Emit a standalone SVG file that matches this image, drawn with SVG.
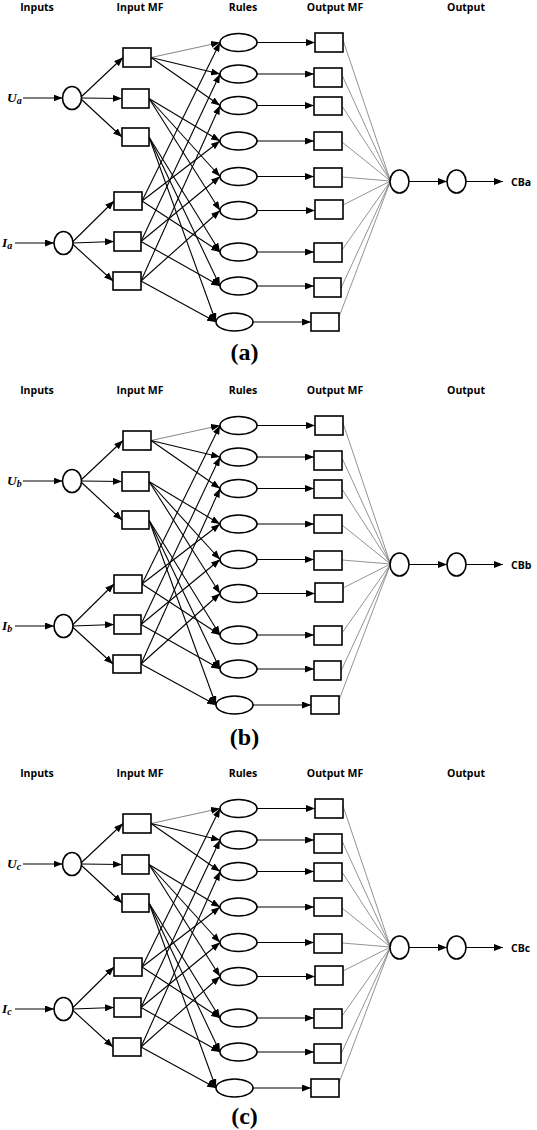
<svg xmlns="http://www.w3.org/2000/svg" width="537" height="1130" viewBox="0 0 537 1130">
<defs>
<marker id="ah" markerUnits="userSpaceOnUse" markerWidth="9" markerHeight="7" refX="9" refY="3.5" orient="auto"><path d="M0,0 L9,3.5 L0,7 z" fill="#000"/></marker>
</defs>
<style>
.nd{fill:#fff;stroke:#000;stroke-width:1.6}
.ar{stroke:#000;stroke-width:1.1;fill:none;marker-end:url(#ah)}
.lg{stroke:#777;stroke-width:0.9;fill:none;marker-end:url(#ah)}
.gr{stroke:#777;stroke-width:0.8;fill:none}
.ti{font-family:"Open Sans","Liberation Sans",sans-serif;font-weight:bold;font-size:10.5px;text-anchor:middle;fill:#000}
.cb{font-family:"Open Sans","Liberation Sans",sans-serif;font-weight:bold;font-size:10.5px;fill:#000}
.iv{font-family:"Liberation Serif",serif;font-weight:bold;font-style:italic;font-size:13.5px;fill:#000}
.sb{font-size:10px}
.pl{font-family:"Liberation Serif",serif;font-weight:bold;font-size:24px;text-anchor:middle;fill:#000}
</style>

<g id="panel-a">
<g id="a-titles"><text class="ti" x="37" y="10.5">Inputs</text><text class="ti" x="140" y="10.5">Input MF</text><text class="ti" x="243" y="10.5">Rules</text><text class="ti" x="335" y="10.5">Output MF</text><text class="ti" x="466" y="10.5">Output</text></g>
<g id="a-connectors">
<line class="ar" x1="23" y1="98" x2="62.5" y2="98"/>
<line class="ar" x1="15" y1="243" x2="54" y2="243"/>
<line class="ar" x1="81" y1="97" x2="123" y2="57.5"/>
<line class="ar" x1="81.5" y1="98" x2="122" y2="98.5"/>
<line class="ar" x1="81" y1="99" x2="122" y2="137"/>
<line class="ar" x1="72.5" y1="242" x2="114" y2="201"/>
<line class="ar" x1="73" y1="243" x2="114" y2="241.5"/>
<line class="ar" x1="72.5" y1="244" x2="113" y2="281"/>
<line class="lg" x1="151" y1="57.5" x2="220" y2="42.5"/>
<line class="ar" x1="151" y1="57.5" x2="220" y2="74"/>
<line class="ar" x1="151" y1="57.5" x2="220" y2="105.5"/>
<line class="ar" x1="149" y1="98.5" x2="220" y2="141"/>
<line class="ar" x1="149" y1="98.5" x2="220" y2="176.5"/>
<line class="ar" x1="149" y1="98.5" x2="220" y2="210.5"/>
<line class="ar" x1="149" y1="137" x2="220" y2="252"/>
<line class="ar" x1="149" y1="137" x2="220" y2="286"/>
<line class="ar" x1="149" y1="137" x2="216" y2="322"/>
<line class="ar" x1="142" y1="201" x2="220" y2="42.5"/>
<line class="ar" x1="142" y1="201" x2="220" y2="141"/>
<line class="ar" x1="142" y1="201" x2="220" y2="252"/>
<line class="ar" x1="141" y1="241.5" x2="220" y2="74"/>
<line class="ar" x1="141" y1="241.5" x2="220" y2="176.5"/>
<line class="ar" x1="141" y1="241.5" x2="220" y2="286"/>
<line class="ar" x1="141" y1="281" x2="220" y2="105.5"/>
<line class="ar" x1="141" y1="281" x2="220" y2="210.5"/>
<line class="ar" x1="141" y1="281" x2="216" y2="322"/>
<line class="ar" x1="257" y1="42.5" x2="315" y2="42.5"/>
<line class="ar" x1="257" y1="74" x2="314" y2="74"/>
<line class="ar" x1="257" y1="105.5" x2="314" y2="105.5"/>
<line class="ar" x1="257" y1="141" x2="314" y2="141"/>
<line class="ar" x1="257" y1="176.5" x2="314" y2="176.5"/>
<line class="ar" x1="257" y1="210.5" x2="315" y2="210.5"/>
<line class="ar" x1="257" y1="252" x2="314" y2="252"/>
<line class="ar" x1="257" y1="286" x2="314" y2="286"/>
<line class="ar" x1="253" y1="322" x2="311" y2="322"/>
<line class="gr" x1="343" y1="40" x2="390.5" y2="181"/>
<line class="gr" x1="342" y1="75" x2="390.5" y2="181"/>
<line class="gr" x1="342" y1="106" x2="390.5" y2="181"/>
<line class="gr" x1="342" y1="142" x2="390.5" y2="181"/>
<line class="gr" x1="342" y1="177" x2="390.5" y2="181"/>
<line class="gr" x1="343" y1="205" x2="390.5" y2="181"/>
<line class="gr" x1="342" y1="250" x2="390.5" y2="181"/>
<line class="gr" x1="341" y1="288" x2="390.5" y2="181"/>
<line class="gr" x1="339" y1="317" x2="390.5" y2="181"/>
<line class="ar" x1="409" y1="181.5" x2="447" y2="181.5"/>
<line class="ar" x1="466" y1="181.5" x2="503" y2="181.5"/>
</g>
<g id="a-in-u"><ellipse class="nd" cx="72" cy="98" rx="9.5" ry="11.5"/><text class="iv" x="7" y="102">U<tspan class="sb" dy="2">a</tspan></text></g>
<g id="a-in-i"><ellipse class="nd" cx="63.5" cy="243" rx="9.5" ry="11.5"/><text class="iv" x="2" y="247">I<tspan class="sb" dy="2">a</tspan></text></g>
<g id="a-mf1"><rect class="nd" x="123" y="48" width="28" height="19"/></g>
<g id="a-mf2"><rect class="nd" x="122" y="89" width="27" height="19"/></g>
<g id="a-mf3"><rect class="nd" x="122" y="128" width="27" height="18"/></g>
<g id="a-mf4"><rect class="nd" x="114" y="192" width="28" height="18"/></g>
<g id="a-mf5"><rect class="nd" x="114" y="232" width="27" height="19"/></g>
<g id="a-mf6"><rect class="nd" x="113" y="272" width="28" height="18"/></g>
<g id="a-r1"><ellipse class="nd" cx="238.5" cy="42.5" rx="18.5" ry="9"/></g>
<g id="a-r2"><ellipse class="nd" cx="238.5" cy="74" rx="18.5" ry="9"/></g>
<g id="a-r3"><ellipse class="nd" cx="238.5" cy="105.5" rx="18.5" ry="9"/></g>
<g id="a-r4"><ellipse class="nd" cx="238.5" cy="141" rx="18.5" ry="9"/></g>
<g id="a-r5"><ellipse class="nd" cx="238.5" cy="176.5" rx="18.5" ry="9"/></g>
<g id="a-r6"><ellipse class="nd" cx="238.5" cy="210.5" rx="18.5" ry="9"/></g>
<g id="a-r7"><ellipse class="nd" cx="238.5" cy="252" rx="18.5" ry="9"/></g>
<g id="a-r8"><ellipse class="nd" cx="238.5" cy="286" rx="18.5" ry="9"/></g>
<g id="a-r9"><ellipse class="nd" cx="234.5" cy="322" rx="18.5" ry="9"/></g>
<g id="a-om1"><rect class="nd" x="315" y="33" width="28" height="19"/></g>
<g id="a-om2"><rect class="nd" x="314" y="68" width="28" height="19"/></g>
<g id="a-om3"><rect class="nd" x="314" y="97" width="28" height="18"/></g>
<g id="a-om4"><rect class="nd" x="314" y="132" width="28" height="18"/></g>
<g id="a-om5"><rect class="nd" x="314" y="168" width="28" height="19"/></g>
<g id="a-om6"><rect class="nd" x="315" y="200" width="28" height="19"/></g>
<g id="a-om7"><rect class="nd" x="314" y="243" width="28" height="19"/></g>
<g id="a-om8"><rect class="nd" x="314" y="278" width="27" height="19"/></g>
<g id="a-om9"><rect class="nd" x="311" y="313" width="28" height="18"/></g>
<g id="a-sum"><ellipse class="nd" cx="399.5" cy="181.5" rx="9.5" ry="11.5"/></g>
<g id="a-out"><ellipse class="nd" cx="456.5" cy="181.5" rx="9.5" ry="11.5"/><text class="cb" x="511" y="185.5">CBa</text></g>
</g>

<g id="panel-b" transform="translate(0,383)">
<g id="b-titles"><text class="ti" x="37" y="10.5">Inputs</text><text class="ti" x="140" y="10.5">Input MF</text><text class="ti" x="243" y="10.5">Rules</text><text class="ti" x="335" y="10.5">Output MF</text><text class="ti" x="466" y="10.5">Output</text></g>
<g id="b-connectors">
<line class="ar" x1="23" y1="98" x2="62.5" y2="98"/>
<line class="ar" x1="15" y1="243" x2="54" y2="243"/>
<line class="ar" x1="81" y1="97" x2="123" y2="57.5"/>
<line class="ar" x1="81.5" y1="98" x2="122" y2="98.5"/>
<line class="ar" x1="81" y1="99" x2="122" y2="137"/>
<line class="ar" x1="72.5" y1="242" x2="114" y2="201"/>
<line class="ar" x1="73" y1="243" x2="114" y2="241.5"/>
<line class="ar" x1="72.5" y1="244" x2="113" y2="281"/>
<line class="lg" x1="151" y1="57.5" x2="220" y2="42.5"/>
<line class="ar" x1="151" y1="57.5" x2="220" y2="74"/>
<line class="ar" x1="151" y1="57.5" x2="220" y2="105.5"/>
<line class="ar" x1="149" y1="98.5" x2="220" y2="141"/>
<line class="ar" x1="149" y1="98.5" x2="220" y2="176.5"/>
<line class="ar" x1="149" y1="98.5" x2="220" y2="210.5"/>
<line class="ar" x1="149" y1="137" x2="220" y2="252"/>
<line class="ar" x1="149" y1="137" x2="220" y2="286"/>
<line class="ar" x1="149" y1="137" x2="216" y2="322"/>
<line class="ar" x1="142" y1="201" x2="220" y2="42.5"/>
<line class="ar" x1="142" y1="201" x2="220" y2="141"/>
<line class="ar" x1="142" y1="201" x2="220" y2="252"/>
<line class="ar" x1="141" y1="241.5" x2="220" y2="74"/>
<line class="ar" x1="141" y1="241.5" x2="220" y2="176.5"/>
<line class="ar" x1="141" y1="241.5" x2="220" y2="286"/>
<line class="ar" x1="141" y1="281" x2="220" y2="105.5"/>
<line class="ar" x1="141" y1="281" x2="220" y2="210.5"/>
<line class="ar" x1="141" y1="281" x2="216" y2="322"/>
<line class="ar" x1="257" y1="42.5" x2="315" y2="42.5"/>
<line class="ar" x1="257" y1="74" x2="314" y2="74"/>
<line class="ar" x1="257" y1="105.5" x2="314" y2="105.5"/>
<line class="ar" x1="257" y1="141" x2="314" y2="141"/>
<line class="ar" x1="257" y1="176.5" x2="314" y2="176.5"/>
<line class="ar" x1="257" y1="210.5" x2="315" y2="210.5"/>
<line class="ar" x1="257" y1="252" x2="314" y2="252"/>
<line class="ar" x1="257" y1="286" x2="314" y2="286"/>
<line class="ar" x1="253" y1="322" x2="311" y2="322"/>
<line class="gr" x1="343" y1="40" x2="390.5" y2="181"/>
<line class="gr" x1="342" y1="75" x2="390.5" y2="181"/>
<line class="gr" x1="342" y1="106" x2="390.5" y2="181"/>
<line class="gr" x1="342" y1="142" x2="390.5" y2="181"/>
<line class="gr" x1="342" y1="177" x2="390.5" y2="181"/>
<line class="gr" x1="343" y1="205" x2="390.5" y2="181"/>
<line class="gr" x1="342" y1="250" x2="390.5" y2="181"/>
<line class="gr" x1="341" y1="288" x2="390.5" y2="181"/>
<line class="gr" x1="339" y1="317" x2="390.5" y2="181"/>
<line class="ar" x1="409" y1="181.5" x2="447" y2="181.5"/>
<line class="ar" x1="466" y1="181.5" x2="503" y2="181.5"/>
</g>
<g id="b-in-u"><ellipse class="nd" cx="72" cy="98" rx="9.5" ry="11.5"/><text class="iv" x="7" y="102">U<tspan class="sb" dy="2">b</tspan></text></g>
<g id="b-in-i"><ellipse class="nd" cx="63.5" cy="243" rx="9.5" ry="11.5"/><text class="iv" x="2" y="247">I<tspan class="sb" dy="2">b</tspan></text></g>
<g id="b-mf1"><rect class="nd" x="123" y="48" width="28" height="19"/></g>
<g id="b-mf2"><rect class="nd" x="122" y="89" width="27" height="19"/></g>
<g id="b-mf3"><rect class="nd" x="122" y="128" width="27" height="18"/></g>
<g id="b-mf4"><rect class="nd" x="114" y="192" width="28" height="18"/></g>
<g id="b-mf5"><rect class="nd" x="114" y="232" width="27" height="19"/></g>
<g id="b-mf6"><rect class="nd" x="113" y="272" width="28" height="18"/></g>
<g id="b-r1"><ellipse class="nd" cx="238.5" cy="42.5" rx="18.5" ry="9"/></g>
<g id="b-r2"><ellipse class="nd" cx="238.5" cy="74" rx="18.5" ry="9"/></g>
<g id="b-r3"><ellipse class="nd" cx="238.5" cy="105.5" rx="18.5" ry="9"/></g>
<g id="b-r4"><ellipse class="nd" cx="238.5" cy="141" rx="18.5" ry="9"/></g>
<g id="b-r5"><ellipse class="nd" cx="238.5" cy="176.5" rx="18.5" ry="9"/></g>
<g id="b-r6"><ellipse class="nd" cx="238.5" cy="210.5" rx="18.5" ry="9"/></g>
<g id="b-r7"><ellipse class="nd" cx="238.5" cy="252" rx="18.5" ry="9"/></g>
<g id="b-r8"><ellipse class="nd" cx="238.5" cy="286" rx="18.5" ry="9"/></g>
<g id="b-r9"><ellipse class="nd" cx="234.5" cy="322" rx="18.5" ry="9"/></g>
<g id="b-om1"><rect class="nd" x="315" y="33" width="28" height="19"/></g>
<g id="b-om2"><rect class="nd" x="314" y="68" width="28" height="19"/></g>
<g id="b-om3"><rect class="nd" x="314" y="97" width="28" height="18"/></g>
<g id="b-om4"><rect class="nd" x="314" y="132" width="28" height="18"/></g>
<g id="b-om5"><rect class="nd" x="314" y="168" width="28" height="19"/></g>
<g id="b-om6"><rect class="nd" x="315" y="200" width="28" height="19"/></g>
<g id="b-om7"><rect class="nd" x="314" y="243" width="28" height="19"/></g>
<g id="b-om8"><rect class="nd" x="314" y="278" width="27" height="19"/></g>
<g id="b-om9"><rect class="nd" x="311" y="313" width="28" height="18"/></g>
<g id="b-sum"><ellipse class="nd" cx="399.5" cy="181.5" rx="9.5" ry="11.5"/></g>
<g id="b-out"><ellipse class="nd" cx="456.5" cy="181.5" rx="9.5" ry="11.5"/><text class="cb" x="511" y="185.5">CBb</text></g>
</g>

<g id="panel-c" transform="translate(0,766)">
<g id="c-titles"><text class="ti" x="37" y="10.5">Inputs</text><text class="ti" x="140" y="10.5">Input MF</text><text class="ti" x="243" y="10.5">Rules</text><text class="ti" x="335" y="10.5">Output MF</text><text class="ti" x="466" y="10.5">Output</text></g>
<g id="c-connectors">
<line class="ar" x1="23" y1="98" x2="62.5" y2="98"/>
<line class="ar" x1="15" y1="243" x2="54" y2="243"/>
<line class="ar" x1="81" y1="97" x2="123" y2="57.5"/>
<line class="ar" x1="81.5" y1="98" x2="122" y2="98.5"/>
<line class="ar" x1="81" y1="99" x2="122" y2="137"/>
<line class="ar" x1="72.5" y1="242" x2="114" y2="201"/>
<line class="ar" x1="73" y1="243" x2="114" y2="241.5"/>
<line class="ar" x1="72.5" y1="244" x2="113" y2="281"/>
<line class="lg" x1="151" y1="57.5" x2="220" y2="42.5"/>
<line class="ar" x1="151" y1="57.5" x2="220" y2="74"/>
<line class="ar" x1="151" y1="57.5" x2="220" y2="105.5"/>
<line class="ar" x1="149" y1="98.5" x2="220" y2="141"/>
<line class="ar" x1="149" y1="98.5" x2="220" y2="176.5"/>
<line class="ar" x1="149" y1="98.5" x2="220" y2="210.5"/>
<line class="ar" x1="149" y1="137" x2="220" y2="252"/>
<line class="ar" x1="149" y1="137" x2="220" y2="286"/>
<line class="ar" x1="149" y1="137" x2="216" y2="322"/>
<line class="ar" x1="142" y1="201" x2="220" y2="42.5"/>
<line class="ar" x1="142" y1="201" x2="220" y2="141"/>
<line class="ar" x1="142" y1="201" x2="220" y2="252"/>
<line class="ar" x1="141" y1="241.5" x2="220" y2="74"/>
<line class="ar" x1="141" y1="241.5" x2="220" y2="176.5"/>
<line class="ar" x1="141" y1="241.5" x2="220" y2="286"/>
<line class="ar" x1="141" y1="281" x2="220" y2="105.5"/>
<line class="ar" x1="141" y1="281" x2="220" y2="210.5"/>
<line class="ar" x1="141" y1="281" x2="216" y2="322"/>
<line class="ar" x1="257" y1="42.5" x2="315" y2="42.5"/>
<line class="ar" x1="257" y1="74" x2="314" y2="74"/>
<line class="ar" x1="257" y1="105.5" x2="314" y2="105.5"/>
<line class="ar" x1="257" y1="141" x2="314" y2="141"/>
<line class="ar" x1="257" y1="176.5" x2="314" y2="176.5"/>
<line class="ar" x1="257" y1="210.5" x2="315" y2="210.5"/>
<line class="ar" x1="257" y1="252" x2="314" y2="252"/>
<line class="ar" x1="257" y1="286" x2="314" y2="286"/>
<line class="ar" x1="253" y1="322" x2="311" y2="322"/>
<line class="gr" x1="343" y1="40" x2="390.5" y2="181"/>
<line class="gr" x1="342" y1="75" x2="390.5" y2="181"/>
<line class="gr" x1="342" y1="106" x2="390.5" y2="181"/>
<line class="gr" x1="342" y1="142" x2="390.5" y2="181"/>
<line class="gr" x1="342" y1="177" x2="390.5" y2="181"/>
<line class="gr" x1="343" y1="205" x2="390.5" y2="181"/>
<line class="gr" x1="342" y1="250" x2="390.5" y2="181"/>
<line class="gr" x1="341" y1="288" x2="390.5" y2="181"/>
<line class="gr" x1="339" y1="317" x2="390.5" y2="181"/>
<line class="ar" x1="409" y1="181.5" x2="447" y2="181.5"/>
<line class="ar" x1="466" y1="181.5" x2="503" y2="181.5"/>
</g>
<g id="c-in-u"><ellipse class="nd" cx="72" cy="98" rx="9.5" ry="11.5"/><text class="iv" x="7" y="102">U<tspan class="sb" dy="2">c</tspan></text></g>
<g id="c-in-i"><ellipse class="nd" cx="63.5" cy="243" rx="9.5" ry="11.5"/><text class="iv" x="2" y="247">I<tspan class="sb" dy="2">c</tspan></text></g>
<g id="c-mf1"><rect class="nd" x="123" y="48" width="28" height="19"/></g>
<g id="c-mf2"><rect class="nd" x="122" y="89" width="27" height="19"/></g>
<g id="c-mf3"><rect class="nd" x="122" y="128" width="27" height="18"/></g>
<g id="c-mf4"><rect class="nd" x="114" y="192" width="28" height="18"/></g>
<g id="c-mf5"><rect class="nd" x="114" y="232" width="27" height="19"/></g>
<g id="c-mf6"><rect class="nd" x="113" y="272" width="28" height="18"/></g>
<g id="c-r1"><ellipse class="nd" cx="238.5" cy="42.5" rx="18.5" ry="9"/></g>
<g id="c-r2"><ellipse class="nd" cx="238.5" cy="74" rx="18.5" ry="9"/></g>
<g id="c-r3"><ellipse class="nd" cx="238.5" cy="105.5" rx="18.5" ry="9"/></g>
<g id="c-r4"><ellipse class="nd" cx="238.5" cy="141" rx="18.5" ry="9"/></g>
<g id="c-r5"><ellipse class="nd" cx="238.5" cy="176.5" rx="18.5" ry="9"/></g>
<g id="c-r6"><ellipse class="nd" cx="238.5" cy="210.5" rx="18.5" ry="9"/></g>
<g id="c-r7"><ellipse class="nd" cx="238.5" cy="252" rx="18.5" ry="9"/></g>
<g id="c-r8"><ellipse class="nd" cx="238.5" cy="286" rx="18.5" ry="9"/></g>
<g id="c-r9"><ellipse class="nd" cx="234.5" cy="322" rx="18.5" ry="9"/></g>
<g id="c-om1"><rect class="nd" x="315" y="33" width="28" height="19"/></g>
<g id="c-om2"><rect class="nd" x="314" y="68" width="28" height="19"/></g>
<g id="c-om3"><rect class="nd" x="314" y="97" width="28" height="18"/></g>
<g id="c-om4"><rect class="nd" x="314" y="132" width="28" height="18"/></g>
<g id="c-om5"><rect class="nd" x="314" y="168" width="28" height="19"/></g>
<g id="c-om6"><rect class="nd" x="315" y="200" width="28" height="19"/></g>
<g id="c-om7"><rect class="nd" x="314" y="243" width="28" height="19"/></g>
<g id="c-om8"><rect class="nd" x="314" y="278" width="27" height="19"/></g>
<g id="c-om9"><rect class="nd" x="311" y="313" width="28" height="18"/></g>
<g id="c-sum"><ellipse class="nd" cx="399.5" cy="181.5" rx="9.5" ry="11.5"/></g>
<g id="c-out"><ellipse class="nd" cx="456.5" cy="181.5" rx="9.5" ry="11.5"/><text class="cb" x="511" y="185.5">CBc</text></g>
</g>

<g id="panel-labels">
<text class="pl" x="244.5" y="360">(a)</text>
<text class="pl" x="244.5" y="745">(b)</text>
<text class="pl" x="244.5" y="1124">(c)</text>
</g>
</svg>
